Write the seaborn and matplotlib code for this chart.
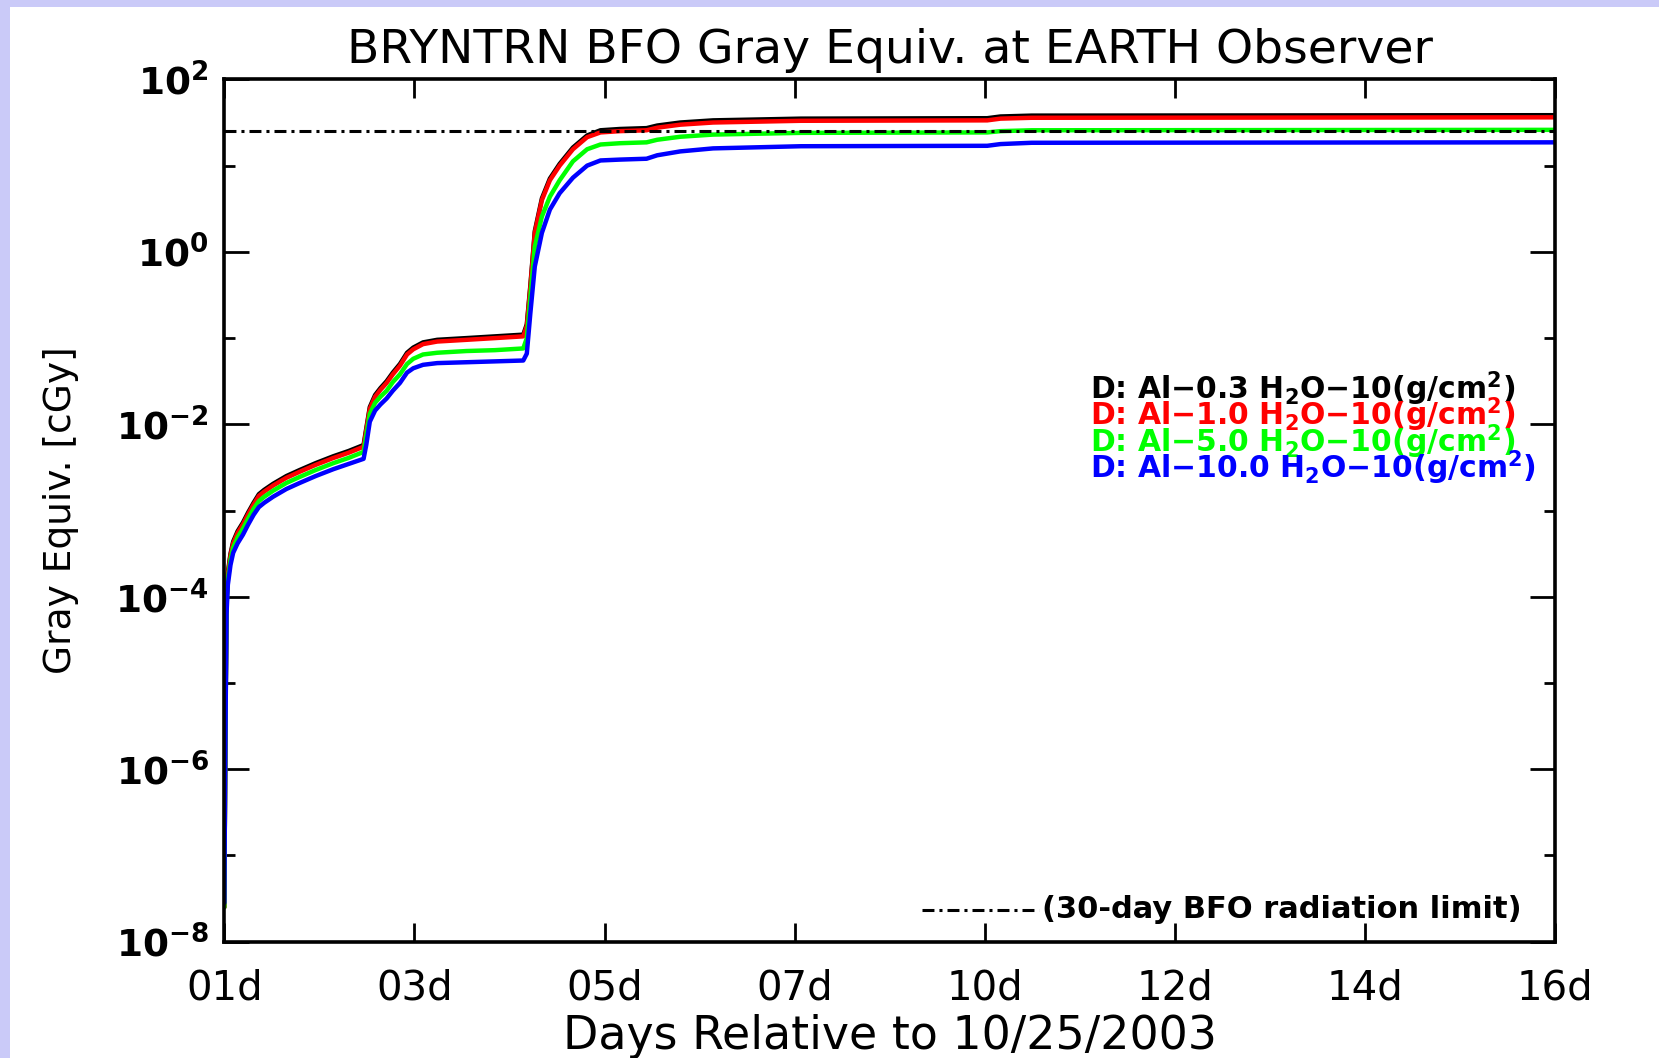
import numpy as np
import pandas as pd
import matplotlib
matplotlib.use("Agg")
import matplotlib.pyplot as plt
from matplotlib.patches import Rectangle
from matplotlib.ticker import FixedLocator, FixedFormatter, NullFormatter
import seaborn as sns

# ---------------- data ----------------
days = [1.000, 1.012, 1.025, 1.04, 1.07, 1.10, 1.15, 1.21, 1.27, 1.33,
        1.39, 1.45, 1.55, 1.70, 1.85, 2.03, 2.23, 2.40, 2.57, 2.60,
        2.64, 2.70, 2.76, 2.83, 2.90, 2.98, 3.06, 3.13, 3.24, 3.40,
        3.73, 4.05, 4.37, 4.41, 4.45, 4.50, 4.58, 4.67, 4.78, 4.93,
        5.09, 5.24, 5.46, 5.76, 5.88, 6.14, 6.51, 7.50, 9.60, 9.75,
        10.10, 16.00]

# log10 of the gray-equivalent dose [cGy]
log_dose_al03 = [-7.60, -5.60, -4.05, -3.72, -3.50, -3.36, -3.24, -3.14, -3.02, -2.91,
                 -2.81, -2.76, -2.69, -2.60, -2.53, -2.45, -2.37, -2.31, -2.24, -2.05,
                 -1.80, -1.66, -1.58, -1.50, -1.40, -1.30, -1.17, -1.11, -1.05, -1.02,
                 -1.00, -0.98, -0.96, -0.84, -0.39, 0.24, 0.62, 0.85, 1.02, 1.21,
                 1.35, 1.41, 1.425, 1.435, 1.465, 1.50, 1.525, 1.545, 1.55, 1.57,
                 1.58, 1.585]
log_dose_al10 = [-7.60, -5.60, -4.07, -3.74, -3.52, -3.38, -3.26, -3.16, -3.04, -2.93,
                 -2.83, -2.78, -2.71, -2.62, -2.55, -2.47, -2.39, -2.33, -2.26, -2.07,
                 -1.82, -1.68, -1.60, -1.52, -1.42, -1.32, -1.19, -1.13, -1.07, -1.04,
                 -1.02, -1.00, -0.98, -0.86, -0.41, 0.22, 0.60, 0.83, 1.00, 1.19,
                 1.33, 1.385, 1.40, 1.41, 1.44, 1.475, 1.50, 1.52, 1.525, 1.545,
                 1.555, 1.56]
log_dose_al50 = [-7.60, -5.65, -4.12, -3.80, -3.57, -3.43, -3.31, -3.21, -3.09, -2.98,
                 -2.89, -2.84, -2.77, -2.68, -2.61, -2.53, -2.45, -2.39, -2.32, -2.13,
                 -1.88, -1.75, -1.68, -1.61, -1.51, -1.42, -1.30, -1.24, -1.19, -1.17,
                 -1.15, -1.14, -1.12, -1.00, -0.52, 0.06, 0.41, 0.64, 0.83, 1.05,
                 1.19, 1.245, 1.26, 1.27, 1.30, 1.335, 1.36, 1.38, 1.385, 1.40,
                 1.41, 1.415]
log_dose_al100 = [-7.55, -5.70, -4.20, -3.86, -3.63, -3.49, -3.38, -3.28, -3.16, -3.05,
                  -2.96, -2.91, -2.84, -2.75, -2.68, -2.60, -2.52, -2.46, -2.40, -2.24,
                  -1.97, -1.84, -1.77, -1.70, -1.61, -1.52, -1.40, -1.35, -1.31, -1.29,
                  -1.28, -1.27, -1.26, -1.18, -0.71, -0.17, 0.22, 0.49, 0.68, 0.86,
                  1.00, 1.06, 1.07, 1.08, 1.12, 1.165, 1.20, 1.225, 1.23, 1.25,
                  1.265, 1.27]

series_labels = ["D: Al\u22120.3 H$_{2}$O\u221210(g/cm$^{2}$)",
                 "D: Al\u22121.0 H$_{2}$O\u221210(g/cm$^{2}$)",
                 "D: Al\u22125.0 H$_{2}$O\u221210(g/cm$^{2}$)",
                 "D: Al\u221210.0 H$_{2}$O\u221210(g/cm$^{2}$)"]
series_colors = ["#000000", "#FF0000", "#00FF00", "#0000FF"]
limit_dose = 25.0  # 30-day BFO radiation limit [cGy]

x_tick_labels = ["01d", "03d", "05d", "07d", "10d", "12d", "14d", "16d"]
y_major_exponents = [-8, -6, -4, -2, 0, 2]
y_minor_exponents = [-7, -5, -3, -1, 1]

title_text = "BRYNTRN BFO Gray Equiv. at EARTH Observer"
x_label = "Days Relative to 10/25/2003"
y_label = "Gray Equiv. [cGy]"
limit_note = "(30-day BFO radiation limit)"

# ---------------- long-form table ----------------
all_logs = [log_dose_al03, log_dose_al10, log_dose_al50, log_dose_al100]
frames = []
for lab, lg in zip(series_labels, all_logs):
    frames.append(pd.DataFrame({"day": days,
                                "dose": np.power(10.0, np.array(lg)),
                                "series": lab}))
df = pd.concat(frames, ignore_index=True)

# ---------------- style ----------------
sns.set_theme(style="white")
plt.rcParams["font.family"] = ["DejaVu Sans"]
plt.rcParams["mathtext.default"] = "regular"
plt.rcParams["lines.scale_dashes"] = False

lavender = "#CACAF8"
fig = plt.figure(figsize=(16.59, 10.58), dpi=100, facecolor=lavender)
fig.patches.append(Rectangle((10 / 1659, 0), 1, 1 - 7 / 1058, transform=fig.transFigure,
                             facecolor="white", edgecolor="none", zorder=-10))

ax = fig.add_axes([224.3 / 1659, 1 - 941.7 / 1058, (1555 - 224.3) / 1659, (941.7 - 79.4) / 1058])
ax.set_facecolor("white")

sns.lineplot(data=df, x="day", y="dose", hue="series", hue_order=series_labels,
             palette=series_colors, estimator=None, sort=False, linewidth=3.2,
             legend=False, ax=ax)

ax.set_yscale("log")
ax.set_xlim(days[0], days[-1])
ax.set_ylim(10.0 ** y_major_exponents[0], 10.0 ** y_major_exponents[-1])

# limit line
ax.axhline(limit_dose, color="black", linewidth=2.2, dashes=(8.6, 3.6, 2.2, 3.6), zorder=5)

# ticks
n_xt = len(x_tick_labels)
xt = np.linspace(days[0], days[-1], n_xt)
ax.xaxis.set_major_locator(FixedLocator(xt))
ax.xaxis.set_major_formatter(FixedFormatter(x_tick_labels))
ax.xaxis.set_minor_locator(FixedLocator([]))
ax.yaxis.set_major_locator(FixedLocator([10.0 ** e for e in y_major_exponents]))
ax.yaxis.set_major_formatter(FixedFormatter([r"$\mathbf{10^{%s}}$" % (str(e).replace('-', '\u2212')) for e in y_major_exponents]))
ax.yaxis.set_minor_locator(FixedLocator([10.0 ** e for e in y_minor_exponents]))
ax.yaxis.set_minor_formatter(NullFormatter())

ax.tick_params(axis="both", which="both", direction="in", top=True, right=True,
               bottom=True, left=True, color="black", width=2.0)
ax.tick_params(axis="x", which="major", length=14, pad=19, labelsize=29, labelcolor="black")
ax.tick_params(axis="y", which="major", length=18, pad=11, labelsize=27, labelcolor="black")
ax.tick_params(axis="y", which="minor", length=8)

for sp in ax.spines.values():
    sp.set_color("black")
    sp.set_linewidth(2.6)
    sp.set_visible(True)

ax.set_title(title_text, fontsize=34, pad=12, color="black")
ax.set_xlabel(x_label, fontsize=33, labelpad=4, color="black")
ax.set_ylabel(y_label, fontsize=27, labelpad=26, color="black")

# legend text block
y0 = 0.629
dy = 0.0307
for i, (lab, col) in enumerate(zip(series_labels, series_colors)):
    ax.text(0.6506, y0 - i * dy, lab, transform=ax.transAxes, color=col,
            fontsize=21.5, fontweight="bold", ha="left", va="baseline", zorder=10)

# limit note
ax.plot([0.524, 0.612], [0.0368, 0.0368], transform=ax.transAxes, color="black",
        linewidth=2.2, dashes=(8.6, 3.6, 2.2, 3.6), clip_on=False)
ax.text(0.975, 0.0275, limit_note, transform=ax.transAxes, color="black",
        fontsize=22, fontweight="bold", ha="right", va="baseline")

fig.savefig("out.png", dpi=100, facecolor=fig.get_facecolor())
